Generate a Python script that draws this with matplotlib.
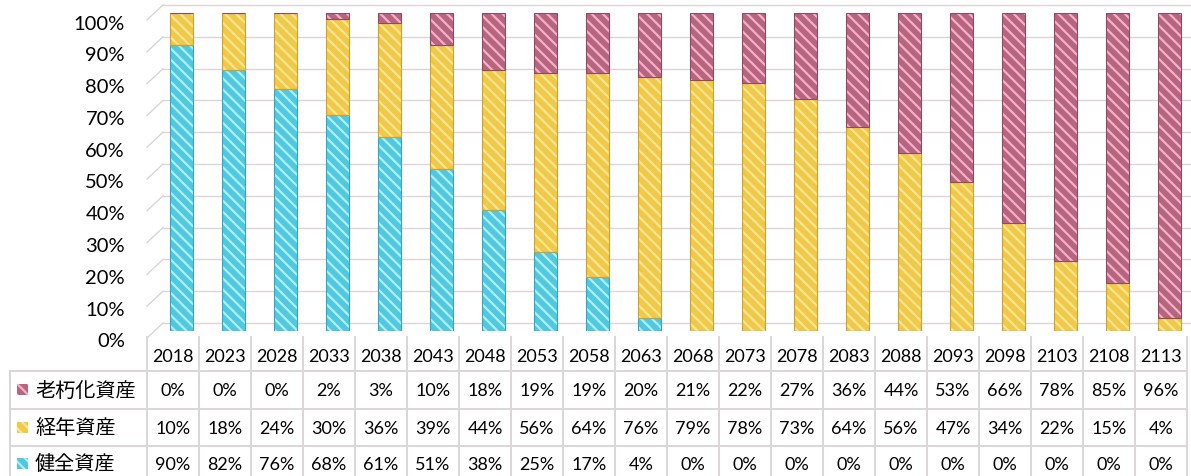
import numpy as np
import matplotlib.pyplot as plt
from matplotlib.patches import Rectangle
from matplotlib.transforms import offset_copy

years = [2018, 2023, 2028, 2033, 2038, 2043, 2048, 2053, 2058, 2063,
         2068, 2073, 2078, 2083, 2088, 2093, 2098, 2103, 2108, 2113]
rokyuka = [0, 0, 0, 2, 3, 10, 18, 19, 19, 20, 21, 22, 27, 36, 44, 53, 66, 78, 85, 96]
keinen = [10, 18, 24, 30, 36, 39, 44, 56, 64, 76, 79, 78, 73, 64, 56, 47, 34, 22, 15, 4]
kenzen = [90, 82, 76, 68, 61, 51, 38, 25, 17, 4, 0, 0, 0, 0, 0, 0, 0, 0, 0, 0]

# series from top of the table down: (label, values, face, stripe, edge)
series = [
    ("老朽化資産", rokyuka, "#b7647f", "#f4b0c8", "#8e4a62"),
    ("経年資産", keinen, "#f0c94a", "#fbe58e", "#c9a233"),
    ("健全資産", kenzen, "#4fc8e0", "#aeeef7", "#37a5bd"),
]

W, H = 1191, 477
JP = ["Noto Sans CJK JP", "DejaVu Sans"]
NUM = ["Lato", "DejaVu Sans"]
GRID = "#dcd4d8"
HATCH = "\\\\\\"
plt.rcParams["hatch.linewidth"] = 1.6

fig = plt.figure(figsize=(W / 100, H / 100), dpi=100)

# chart area: columns are 52px wide starting at x=147
ax = fig.add_axes([147 / W, 145 / H, 1040 / W, 318 / H])
ax.set_xlim(-0.5, len(years) - 0.5)
ax.set_ylim(0, 100)
ax.axis("off")

ppu = 3.18  # pixels per percent
x = np.arange(len(years))
for v in range(0, 101, 10):
    # floor grid with a slanted stub on the left, drawn a bit behind the bars
    yb = v + 8 / ppu
    ax.plot([-0.5, -0.5 + 16 / 52], [v - 7 / ppu, yb], color=GRID, lw=1, clip_on=False, zorder=0)
    ax.plot([-0.5 + 16 / 52, len(years) - 0.5 + 4 / 52], [yb, yb], color=GRID, lw=1,
            clip_on=False, zorder=0)
    ax.text(-0.5, v, f"{v}%", ha="right", va="center", fontsize=14.5, family=NUM,
            transform=offset_copy(ax.transData, fig=fig, x=-22, y=-10, units="dots"))

bx = x + 0.16
bw = 0.44
bottom = np.zeros(len(years))
for name, vals, face, stripe, edge in reversed(series):
    vals = np.array(vals, dtype=float)
    ax.bar(bx, vals, bw, bottom=bottom, color=face, edgecolor=stripe, lw=0,
           hatch=HATCH, zorder=2)
    ax.bar(bx, vals, bw, bottom=bottom, fill=False, edgecolor=edge, lw=0.8, zorder=3)
    bottom += vals

# data table underneath
tax = fig.add_axes([10 / W, 0, 1177 / W, 139 / H])
left = -0.5 - 137 / 52
tax.set_xlim(left, len(years) - 0.5)
tax.set_ylim(477, 338)
tax.axis("off")

row_top = [372, 410, 447]
row_mid = [391, 428.5, 465]
lw = 1.4
for xb in np.arange(len(years) + 1) - 0.5:
    tax.plot([xb, xb], [338, 477], color=GRID, lw=lw, clip_on=False)
tax.plot([left, left], [372, 477], color=GRID, lw=lw, clip_on=False)
for yr in row_top:
    tax.plot([left, len(years) - 0.5], [yr, yr], color=GRID, lw=lw, clip_on=False)

for i, yv in enumerate(years):
    tax.text(i, 357, str(yv), ha="center", va="center", fontsize=13, family=NUM)

kw = 11 / 52
for (name, vals, face, stripe, edge), ym in zip(series, row_mid):
    tax.add_patch(Rectangle((left + 7 / 52, ym - 6), kw, 11, facecolor=face,
                            edgecolor=stripe, lw=0, hatch=HATCH, clip_on=False))
    tax.text(left + 25 / 52, ym, name, ha="left", va="center", fontsize=14.5, family=JP)
    for i, v in enumerate(vals):
        tax.text(i, ym, f"{v}%", ha="center", va="center", fontsize=13, family=NUM)

fig.savefig("out.png", dpi=100)
